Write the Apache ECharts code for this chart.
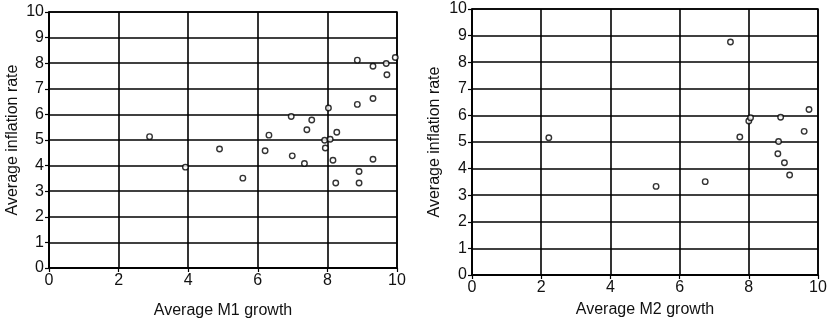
<!DOCTYPE html>
<html>
<head>
<meta charset="utf-8">
<script src="https://cdn.jsdelivr.net/npm/echarts@6/dist/echarts.min.js"></script>
<style>
  html, body { margin: 0; padding: 0; background: #fff; }
  #chart { width: 833px; height: 324px; }
</style>
</head>
<body>
<div id="chart"></div>
<script>
// M1 growth vs inflation
const m1Growth = [2.89, 3.92, 4.90, 5.57, 6.21, 6.32, 6.96, 6.99, 7.34, 7.41, 7.55, 7.92, 7.94, 8.03,
  8.08, 8.16, 8.27, 8.24, 8.86, 8.86, 8.91, 8.91, 9.31, 9.31, 9.31, 9.69, 9.71, 9.95];
const m1Inflation = [5.13, 3.94, 4.65, 3.51, 4.58, 5.19, 5.92, 4.38, 4.08, 5.40, 5.78, 4.99, 4.69, 6.25,
  5.03, 4.21, 5.30, 3.32, 8.12, 6.39, 3.77, 3.32, 7.88, 6.62, 4.25, 7.99, 7.55, 8.22];
// M2 growth vs inflation
const m2Growth = [2.22, 5.32, 6.74, 7.47, 7.74, 8.00, 8.05, 8.92, 8.86, 8.84, 9.03, 9.18, 9.60, 9.74];
const m2Inflation = [5.16, 3.33, 3.51, 8.76, 5.19, 5.79, 5.91, 5.93, 5.02, 4.56, 4.22, 3.76, 5.40, 6.22];

const xTitles = ["Average M1 growth", "Average M2 growth"];
const yTitle = "Average inflation rate";

const font = "'Liberation Sans', Arial, sans-serif";

function pairs(xs, ys) {
  return xs.map((x, i) => [x, ys[i]]);
}

function xAxis(idx, name, gap) {
  return {
    gridIndex: idx, type: "value", min: 0, max: 10, interval: 2,
    name: name, nameLocation: "middle", nameGap: gap,
    nameTextStyle: { color: "#111", fontSize: 16, fontFamily: font },
    axisLine: { show: true, lineStyle: { color: "#000", width: 1.5 } },
    axisTick: { show: true, length: 4, lineStyle: { color: "#000", width: 1.2 } },
    axisLabel: { color: "#111", fontSize: 16, fontFamily: font, margin: 5 },
    splitLine: { show: true, lineStyle: { color: "#000", width: 1.6 } }
  };
}

function yAxis(idx, gap) {
  return {
    gridIndex: idx, type: "value", min: 0, max: 10, interval: 1,
    name: yTitle, nameLocation: "middle", nameGap: gap, nameRotate: 90,
    nameTextStyle: { color: "#111", fontSize: 16, fontFamily: font },
    axisLine: { show: true, lineStyle: { color: "#000", width: 1.5 } },
    axisTick: { show: true, length: 4, lineStyle: { color: "#000", width: 1.2 } },
    axisLabel: { color: "#111", fontSize: 16, fontFamily: font, margin: 5 },
    splitLine: { show: true, lineStyle: { color: "#000", width: 1.6 } }
  };
}

function scatter(idx, data) {
  return {
    type: "scatter", xAxisIndex: idx, yAxisIndex: idx,
    data: data, symbol: "circle", symbolSize: 5.5,
    itemStyle: { color: "#fff", borderColor: "#000", borderWidth: 1.4 },
    emphasis: { disabled: true }
  };
}

const chart = echarts.init(document.getElementById("chart"));
chart.setOption({
  animation: false,
  backgroundColor: "#fff",
  grid: [
    { left: 49, right: 436, top: 12, bottom: 56, show: true, borderColor: "#000", borderWidth: 1.5 },
    { left: 472, right: 15, top: 9, bottom: 49, show: true, borderColor: "#000", borderWidth: 1.5 }
  ],
  xAxis: [xAxis(0, xTitles[0], 35), xAxis(1, xTitles[1], 27)],
  yAxis: [yAxis(0, 28), yAxis(1, 29)],
  series: [
    scatter(0, pairs(m1Growth, m1Inflation)),
    scatter(1, pairs(m2Growth, m2Inflation))
  ]
});
</script>
</body>
</html>
